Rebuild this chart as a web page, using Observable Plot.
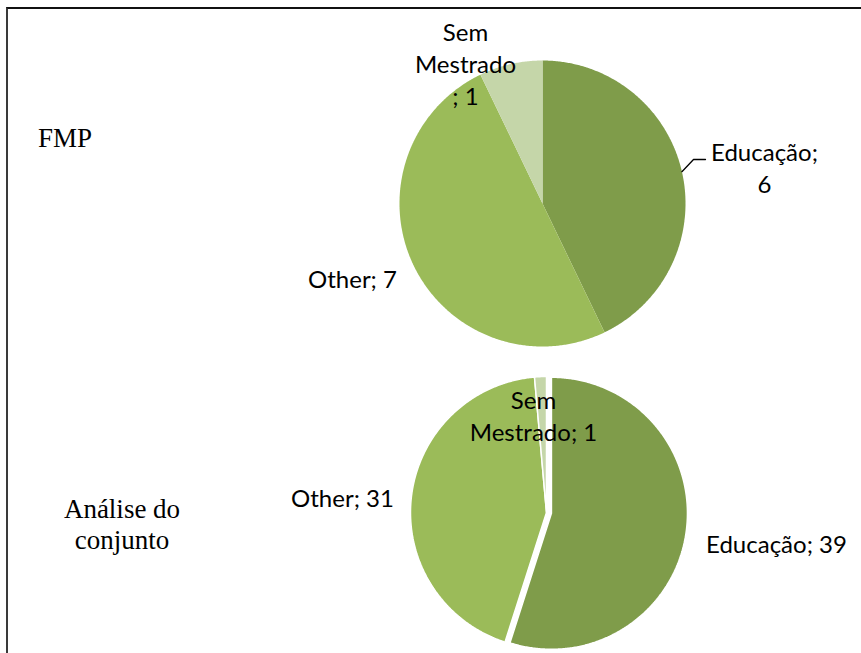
<!DOCTYPE html>
<html><head><meta charset="utf-8">
<script src="https://cdn.jsdelivr.net/npm/d3@7"></script>
<script src="https://cdn.jsdelivr.net/npm/@observablehq/plot@0.6"></script>
<style>
body{margin:0;background:#fff;}
#wrap{position:relative;width:861px;height:653px;overflow:hidden;background:#fff;}
#frame{position:absolute;left:6px;top:7px;width:900px;height:700px;border-top:2px solid #111;border-left:2px solid #3a3a3a;box-sizing:border-box;pointer-events:none;}
</style></head><body>
<div id="wrap"><div id="chart"></div><div id="frame"></div></div>
<script>
// ---- data ----
const categories = ["Educação", "Other", "Sem Mestrado"];
const fmpValues = [6, 7, 1];
const conjuntoValues = [39, 31, 1];
const panelTitles = ["FMP", "Análise do\nconjunto"];
const sliceColors = ["#7F9C4A", "#9BBB59", "#C5D6A9"];

// ---- layout (positions / styles) ----
const W = 861, H = 653;
const pies = [
  {key: "fmp", values: fmpValues, cx: 542, cy: 203, r: 143, explode: [0, 0, 0], stroke: "none",
   labels: [
     {x: 764, base: 160, breaks: [9]},     // Educação;\n6
     {x: 352, base: 287, breaks: []},      // Other; 7
     {x: 465, base: 40, breaks: [3, 12]}   // Sem\nMestrado\n; 1
   ],
   leader: {cat: 0, elbow: [693, 159], end: [705, 159]}},
  {key: "all", values: conjuntoValues, cx: 546, cy: 512, r: 136, explode: [5, 0, 0], stroke: "white",
   labels: [
     {x: 776, base: 552, breaks: []},
     {x: 342, base: 506, breaks: []},
     {x: 533, base: 408, breaks: [3]}
   ]}
];
const titleLayout = [{x: 64.5, base: 146}, {x: 121.5, base: 517}];
const labelFont = 24, titleFont = 27;
const labelLift = 0.95, titleLift = 0.785;

function wrap(s, breaks) {
  let out = "", prev = 0;
  for (const b of breaks) {
    out += s.slice(prev, b) + "\n";
    prev = s[b] === " " ? b + 1 : b;
  }
  return out + s.slice(prev);
}

const slicePts = [], labelRows = [], leaderPts = [];
for (const p of pies) {
  const arcs = d3.pie().sort(null).startAngle(0).endAngle(2 * Math.PI)(p.values);
  arcs.forEach((a, i) => {
    const mid = (a.startAngle + a.endAngle) / 2;
    const ox = p.cx + p.explode[i] * Math.sin(mid);
    const oy = p.cy - p.explode[i] * Math.cos(mid);
    const id = p.key + "-" + i;
    slicePts.push({id, pie: p.key, cat: categories[i], x: ox, y: oy});
    const n = Math.max(2, Math.ceil((a.endAngle - a.startAngle) / (Math.PI / 360)));
    for (let k = 0; k <= n; k++) {
      const t = a.startAngle + (a.endAngle - a.startAngle) * k / n;
      slicePts.push({id, pie: p.key, cat: categories[i], x: ox + p.r * Math.sin(t), y: oy - p.r * Math.cos(t)});
    }
    slicePts.push({id, pie: p.key, cat: categories[i], x: ox, y: oy});
    const L = p.labels[i];
    labelRows.push({x: L.x, y: L.base - labelLift * labelFont, text: wrap(`${categories[i]}; ${p.values[i]}`, L.breaks)});
    if (p.leader && p.leader.cat === i) {
      leaderPts.push({x: ox + p.r * Math.sin(mid), y: oy - p.r * Math.cos(mid)});
      leaderPts.push({x: p.leader.elbow[0], y: p.leader.elbow[1]});
      leaderPts.push({x: p.leader.end[0], y: p.leader.end[1]});
    }
  });
}
const titleRows = panelTitles.map((t, i) => ({text: t, x: titleLayout[i].x, y: titleLayout[i].base - titleLift * titleFont}));

const chart = Plot.plot({
  width: W, height: H,
  margin: 0,
  x: {domain: [0, W], range: [0, W], axis: null},
  y: {domain: [0, H], range: [0, H], axis: null},
  color: {domain: categories, range: sliceColors},
  marks: [
    Plot.line(slicePts.filter(d => d.pie === "fmp"), {x: "x", y: "y", z: "id", fill: "cat", stroke: "none"}),
    Plot.line(slicePts.filter(d => d.pie === "all"), {x: "x", y: "y", z: "id", fill: "cat", stroke: "white", strokeWidth: 1.5, strokeLinejoin: "miter"}),
    Plot.line(leaderPts, {x: "x", y: "y", stroke: "black", strokeWidth: 1.3}),
    Plot.text(labelRows, {x: "x", y: "y", text: "text", fontSize: labelFont, fontFamily: "Lato", fill: "black",
      textAnchor: "middle", lineAnchor: "top", lineHeight: 1.35}),
    Plot.text(titleRows, {x: "x", y: "y", text: "text", fontSize: titleFont, fontFamily: "Liberation Serif", fill: "black",
      textAnchor: "middle", lineAnchor: "top", lineHeight: 31 / 27})
  ]
});
document.getElementById("chart").appendChild(chart);
</script>
</body></html>
